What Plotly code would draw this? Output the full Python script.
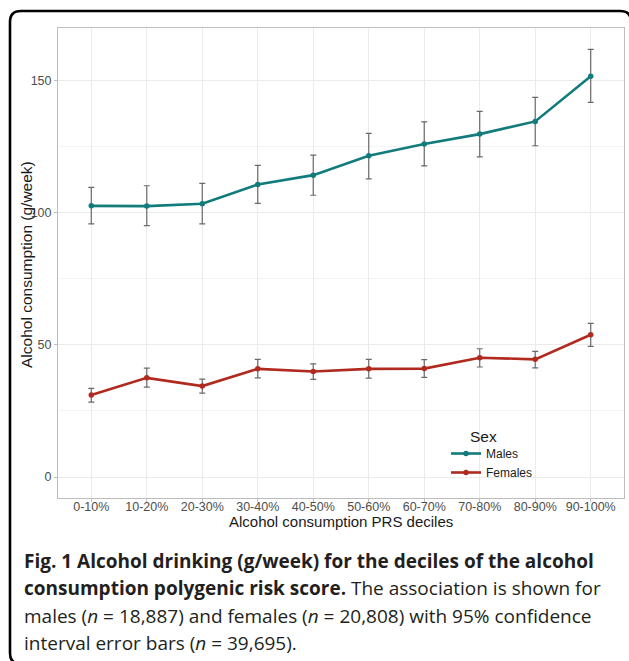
import plotly.graph_objects as go

deciles = ["0-10%", "10-20%", "20-30%", "30-40%", "40-50%",
           "50-60%", "60-70%", "70-80%", "80-90%", "90-100%"]

males_mean = [102.5, 102.4, 103.3, 110.6, 114.1, 121.4, 125.9, 129.6, 134.4, 151.5]
males_upper = [109.5, 110.1, 111.0, 117.8, 121.7, 129.9, 134.2, 138.2, 143.5, 161.6]
males_lower = [95.7, 95.0, 95.7, 103.4, 106.5, 112.7, 117.6, 121.0, 125.2, 141.6]

females_mean = [31.0, 37.5, 34.4, 40.9, 39.9, 40.9, 41.0, 45.1, 44.5, 53.8]
females_upper = [33.5, 41.2, 37.0, 44.5, 42.8, 44.5, 44.4, 48.5, 47.5, 58.1]
females_lower = [28.3, 34.0, 31.7, 37.5, 36.9, 37.4, 37.7, 41.6, 41.3, 49.4]

y_ticks = [0, 50, 100, 150]
y_minor = [25, 75, 125]

MALE_COL = "#127b7c"
FEMALE_COL = "#b02a1f"
ERR_COL = "#6a6a6a"

W, H = 629, 661
ML, MR, MT, MB = 58, 5, 28, 163
PW, PH = W - ML - MR, H - MT - MB


def px(x):
    return (x - ML) / PW


def py(y):
    return (H - MB - y) / PH


def err(upper, mean, lower):
    return ([u - m for u, m in zip(upper, mean)],
            [m - l for m, l in zip(mean, lower)])


fig = go.Figure()
for name, mean, up, lo, col in [
    ("Males", males_mean, males_upper, males_lower, MALE_COL),
    ("Females", females_mean, females_upper, females_lower, FEMALE_COL),
]:
    plus, minus = err(up, mean, lo)
    fig.add_trace(go.Scatter(
        x=deciles, y=mean, name=name, mode="lines+markers",
        line=dict(color=col, width=2.6),
        marker=dict(color=col, size=5.5),
        error_y=dict(type="data", array=plus, arrayminus=minus,
                     color=ERR_COL, thickness=1.2, width=3),
    ))

font_main = "Liberation Sans, Arial, sans-serif"
title_col = "#1a1a1a"

fig.update_layout(
    width=W, height=H,
    margin=dict(l=ML, r=MR, t=MT, b=MB),
    paper_bgcolor="white", plot_bgcolor="white",
    font=dict(family=font_main, color="#4d4d4d", size=12.5),
    showlegend=True,
    legend=dict(x=px(446), y=py(439), xanchor="left", yanchor="top",
                bgcolor="rgba(0,0,0,0)", font=dict(size=12, color=title_col),
                tracegroupgap=0, itemwidth=30),
    xaxis=dict(
        type="category", range=[-0.6, 9.6],
        showgrid=True, gridcolor="#ebebeb", gridwidth=1,
        showline=True, mirror=True, linecolor="#bdbdbd", linewidth=1,
        ticks="outside", ticklen=3, tickcolor="#bdbdbd",
        tickfont=dict(size=12.5, color="#4d4d4d"),
        ticklabelstandoff=-6,
        zeroline=False,
    ),
    yaxis=dict(
        range=[-7.9, 169.7], tickvals=y_ticks,
        showgrid=True, gridcolor="#ebebeb", gridwidth=1,
        minor=dict(tickvals=y_minor, showgrid=True, gridcolor="#f4f4f4",
                   gridwidth=0.7, ticks=""),
        showline=True, mirror=True, linecolor="#bdbdbd", linewidth=1,
        ticks="outside", ticklen=3, tickcolor="#bdbdbd",
        tickfont=dict(size=12.5, color="#4d4d4d"),
        zeroline=False,
    ),
)

# axis titles
fig.add_annotation(text="Alcohol consumption PRS deciles", xref="paper", yref="paper",
                   x=px(341), y=py(521), xanchor="center", yanchor="middle",
                   showarrow=False, font=dict(size=15, color=title_col, family=font_main))
fig.add_annotation(text="Alcohol consumption (g/week)", xref="paper", yref="paper",
                   x=px(26), y=py(265), xanchor="center", yanchor="middle", textangle=-90,
                   showarrow=False, font=dict(size=15.5, color=title_col, family=font_main))

# white box behind legend (ggplot legend background)
fig.add_shape(type="rect", xref="paper", yref="paper",
              x0=px(430), x1=px(590), y0=py(478), y1=py(418),
              fillcolor="white", line=dict(width=0), layer="between")

# legend title
fig.add_annotation(text="Sex", xref="paper", yref="paper",
                   x=px(468), y=py(436), xanchor="left", yanchor="middle",
                   showarrow=False, font=dict(size=15.5, color=title_col, family=font_main))

# rounded figure border
r = 11
L, T, R, B = 10, 11, 631, 664
path = (f"M {px(R)},{py(T + r)} Q {px(R)},{py(T)} {px(R - r)},{py(T)} "
        f"L {px(L + r)},{py(T)} Q {px(L)},{py(T)} {px(L)},{py(T + r)} "
        f"L {px(L)},{py(B - r)} Q {px(L)},{py(B)} {px(L + r)},{py(B)} "
        f"L {px(R)},{py(B)}")
fig.add_shape(type="path", xref="paper", yref="paper", path=path,
              line=dict(color="black", width=2.6))

cap_font = dict(family="Open Sans, sans-serif", size=19, color="#231f20")
caption_lines = [
    "<b>Fig. 1 Alcohol drinking (g/week) for the deciles of the alcohol</b>",
    "<b>consumption polygenic risk score.</b> The association is shown for",
    "males (<i>n</i> = 18,887) and females (<i>n</i> = 20,808) with 95% confidence",
    "interval error bars (<i>n</i> = 39,695).",
]
caption_y = [561, 588, 616, 643]
for txt, yy in zip(caption_lines, caption_y):
    fig.add_annotation(text=txt, xref="paper", yref="paper",
                       x=px(22), y=py(yy), xanchor="left", yanchor="middle",
                       showarrow=False, font=cap_font)

fig.write_html("out.html", config={"displayModeBar": False},
               post_script="document.body.style.margin='0';document.body.style.padding='0';")
